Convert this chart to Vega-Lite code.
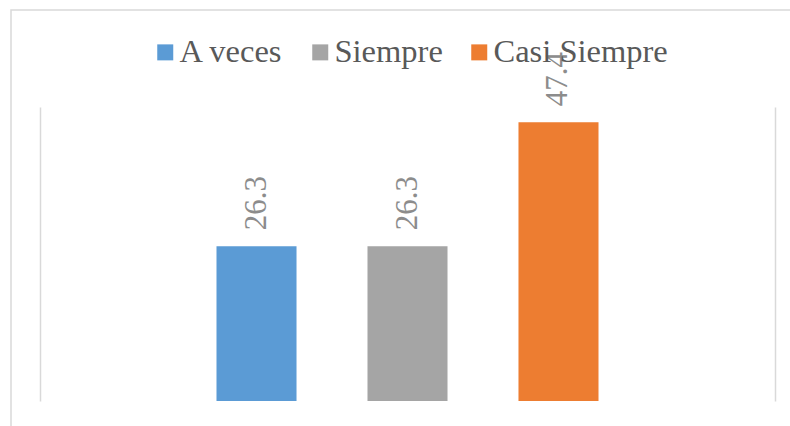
{
  "$schema": "https://vega.github.io/schema/vega-lite/v6.json",
  "autosize": "none",
  "padding": {"left": 11, "top": 10, "right": 0, "bottom": 0},
  "width": 790,
  "height": 426,
  "data": {"values": [
    {"serie": "A veces", "valor": 26.3},
    {"serie": "Siempre", "valor": 26.3},
    {"serie": "Casi Siempre", "valor": 47.4}
  ]},
  "encoding": {
    "x": {"field": "serie", "type": "nominal", "axis": null,
      "scale": {"domain": ["A veces", "Siempre", "Casi Siempre"], "range": [54.5, 738.5], "paddingInner": 0.47, "paddingOuter": 1}},
    "y": {"field": "valor", "type": "quantitative",
      "scale": {"domain": [0, 50], "range": [391, 97], "nice": false, "zero": true}}
  },
  "layer": [
    {
      "mark": {"type": "bar"},
      "encoding": {
        "y": {"field": "valor", "type": "quantitative",
          "axis": {"orient": "left", "offset": -29, "domain": true, "domainColor": "#d9d9d9", "domainWidth": 1.5, "labels": false, "ticks": false, "grid": false, "title": null}},
        "color": {"field": "serie", "type": "nominal",
          "scale": {"domain": ["A veces", "Siempre", "Casi Siempre"], "range": ["#5b9bd5", "#a5a5a5", "#ed7d31"]},
          "legend": {"orient": "none", "direction": "horizontal", "legendX": 138, "legendY": 26, "title": null}}
      }
    },
    {
      "mark": {"type": "text", "angle": 270, "align": "left", "baseline": "middle", "dx": 16, "font": "Liberation Serif", "fontSize": 31, "fontWeight": "normal", "color": "#8c8c8c"},
      "encoding": {
        "y": {"field": "valor", "type": "quantitative",
          "axis": {"orient": "right", "offset": -26, "domain": true, "domainColor": "#d9d9d9", "domainWidth": 1.5, "labels": false, "ticks": false, "grid": false, "title": null}},
        "text": {"field": "valor", "type": "quantitative", "format": ".1f"}
      }
    }
  ],
  "resolve": {"axis": {"y": "independent"}},
  "config": {
    "view": {"stroke": "#d9d9d9", "strokeWidth": 1.5},
    "text": {"font": "Liberation Serif"},
    "legend": {
      "labelFont": "Liberation Serif", "labelFontSize": 32.5, "labelColor": "#595959", "labelLimit": 400,
      "symbolType": "square", "symbolSize": 256, "symbolStrokeWidth": 0,
      "labelOffset": -2, "columnPadding": 20, "padding": 0
    }
  }
}
